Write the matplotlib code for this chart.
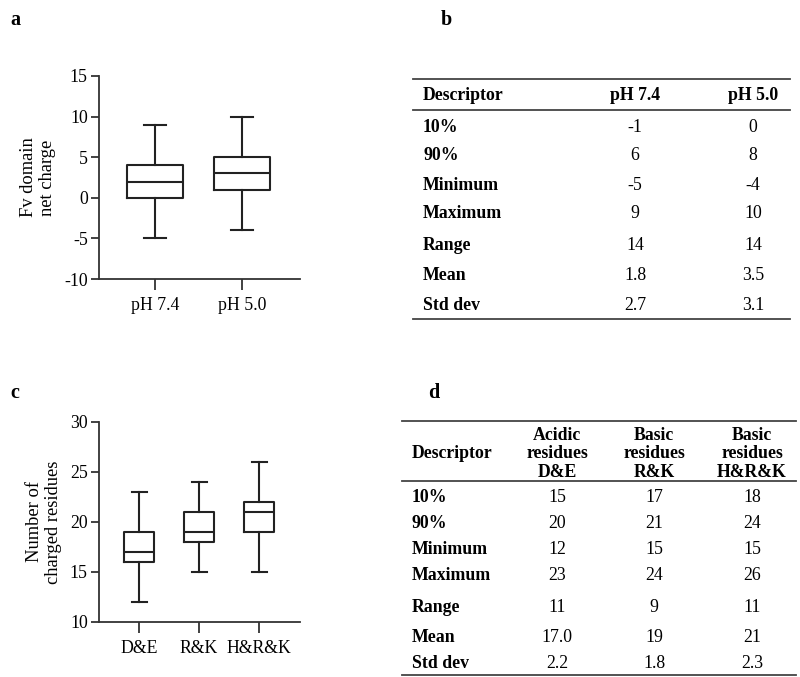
import numpy as np
import matplotlib
matplotlib.use("Agg")
import matplotlib.pyplot as plt
from matplotlib.lines import Line2D

plt.rcParams['font.family'] = ['Liberation Serif', 'DejaVu Serif']
plt.rcParams['axes.unicode_minus'] = False

# ---- panel a data (box plot stats) ----
a_labels = ['pH 7.4', 'pH 5.0']
a_whislo = [-5, -4]
a_q1 = [0, 1]
a_med = [2, 3]
a_q3 = [4, 5]
a_whishi = [9, 10]

# ---- panel b table ----
b_cols = ['Descriptor', 'pH 7.4', 'pH 5.0']
b_rows = ['10%', '90%', 'Minimum', 'Maximum', 'Range', 'Mean', 'Std dev']
b_ph74 = ['-1', '6', '-5', '9', '14', '1.8', '2.7']
b_ph50 = ['0', '8', '-4', '10', '14', '3.5', '3.1']

# ---- panel c data ----
c_labels = ['D&E', 'R&K', 'H&R&K']
c_whislo = [12, 15, 15]
c_q1 = [16, 18, 19]
c_med = [17, 19, 21]
c_q3 = [19, 21, 22]
c_whishi = [23, 24, 26]

# ---- panel d table ----
d_cols = ['Descriptor', 'Acidic\nresidues\nD&E', 'Basic\nresidues\nR&K', 'Basic\nresidues\nH&R&K']
d_rows = ['10%', '90%', 'Minimum', 'Maximum', 'Range', 'Mean', 'Std dev']
d_acid = ['15', '20', '12', '23', '11', '17.0', '2.2']
d_rk = ['17', '21', '15', '24', '9', '19', '1.8']
d_hrk = ['18', '24', '15', '26', '11', '21', '2.3']

W, H = 800, 677
FS_TICK = 12.8
FS_TAB = 12.8
fig = plt.figure(figsize=(W / 100, H / 100), dpi=100)


def fx(px):
    return px / W


def fy(py):
    return 1 - py / H


def box_panel(rect, labels, lo, q1, med, q3, hi, ylim, yticks, xlim, width, capw, ylabel):
    ax = fig.add_axes(rect)
    stats = [dict(whislo=lo[i], q1=q1[i], med=med[i], q3=q3[i], whishi=hi[i], fliers=[])
             for i in range(len(labels))]
    pos = np.arange(1, len(labels) + 1)
    lp = dict(color='#222222', linewidth=1.5)
    ax.bxp(stats, positions=pos, widths=width, showfliers=False,
           boxprops=lp, whiskerprops=lp, capprops=lp,
           medianprops=lp, capwidths=capw)
    ax.set_xlim(*xlim)
    ax.set_ylim(*ylim)
    ax.set_yticks(yticks)
    ax.set_xticks(pos)
    ax.set_xticklabels(labels, fontsize=FS_TICK)
    ax.tick_params(axis='y', labelsize=FS_TICK, length=6, width=1.3, color='#333333', pad=2)
    ax.tick_params(axis='x', length=8, width=1.3, color='#333333', pad=5)
    for s in ['top', 'right']:
        ax.spines[s].set_visible(False)
    for s in ['left', 'bottom']:
        ax.spines[s].set_linewidth(1.3)
        ax.spines[s].set_color('#333333')
    ax.set_ylabel(ylabel, fontsize=FS_TICK + 0.5, linespacing=1.15, labelpad=6)
    return ax


box_panel([fx(99), fy(279), fx(300) - fx(99), fy(76) - fy(279)],
          a_labels, a_whislo, a_q1, a_med, a_q3, a_whishi,
          (-10, 15), [-10, -5, 0, 5, 10, 15], (0.356, 2.667), 0.64, 0.26,
          'Fv domain\nnet charge')

box_panel([fx(99), fy(622), fx(300) - fx(99), fy(422) - fy(622)],
          c_labels, c_whislo, c_q1, c_med, c_q3, c_whishi,
          (10, 30), [10, 15, 20, 25, 30], (0.333, 3.683), 0.5, 0.25,
          'Number of\ncharged residues')

# panel letters
for lab, x, y in [('a', 10, 20), ('b', 441, 20), ('c', 10, 393), ('d', 428, 393)]:
    fig.text(fx(x), fy(y), lab, fontsize=14.5, fontweight='bold', ha='left', va='center')


def hline(x0, x1, y):
    fig.add_artist(Line2D([fx(x0), fx(x1)], [fy(y), fy(y)], color='#444444', linewidth=1.3))


# ---- table b ----
hline(413, 790, 79)
hline(413, 790, 110)
hline(413, 790, 319)
b_colx = [423, 635, 753]
fig.text(fx(b_colx[0]), fy(96), b_cols[0], fontsize=FS_TAB, fontweight='bold', ha='left', va='center')
for j in (1, 2):
    fig.text(fx(b_colx[j]), fy(96), b_cols[j], fontsize=FS_TAB, fontweight='bold', ha='center', va='center')
b_rowy = [127, 156, 185, 214, 245, 275, 305]
for i, r in enumerate(b_rows):
    fig.text(fx(b_colx[0]), fy(b_rowy[i]), r, fontsize=FS_TAB, fontweight='bold', ha='left', va='center')
    fig.text(fx(b_colx[1]), fy(b_rowy[i]), b_ph74[i], fontsize=FS_TAB, ha='center', va='center')
    fig.text(fx(b_colx[2]), fy(b_rowy[i]), b_ph50[i], fontsize=FS_TAB, ha='center', va='center')

# ---- table d ----
hline(402, 796, 421)
hline(402, 796, 481)
hline(402, 796, 675)
d_colx = [412, 557, 654, 752]
fig.text(fx(d_colx[0]), fy(454), d_cols[0], fontsize=FS_TAB, fontweight='bold', ha='left', va='center')
for j in (1, 2, 3):
    fig.text(fx(d_colx[j]), fy(454), d_cols[j], fontsize=FS_TAB, fontweight='bold',
             ha='center', va='center', linespacing=1.1)
d_rowy = [498, 524, 549, 575, 607, 638, 664]
for i, r in enumerate(d_rows):
    fig.text(fx(d_colx[0]), fy(d_rowy[i]), r, fontsize=FS_TAB, fontweight='bold', ha='left', va='center')
    fig.text(fx(d_colx[1]), fy(d_rowy[i]), d_acid[i], fontsize=FS_TAB, ha='center', va='center')
    fig.text(fx(d_colx[2]), fy(d_rowy[i]), d_rk[i], fontsize=FS_TAB, ha='center', va='center')
    fig.text(fx(d_colx[3]), fy(d_rowy[i]), d_hrk[i], fontsize=FS_TAB, ha='center', va='center')

fig.savefig('out.png', dpi=100)
